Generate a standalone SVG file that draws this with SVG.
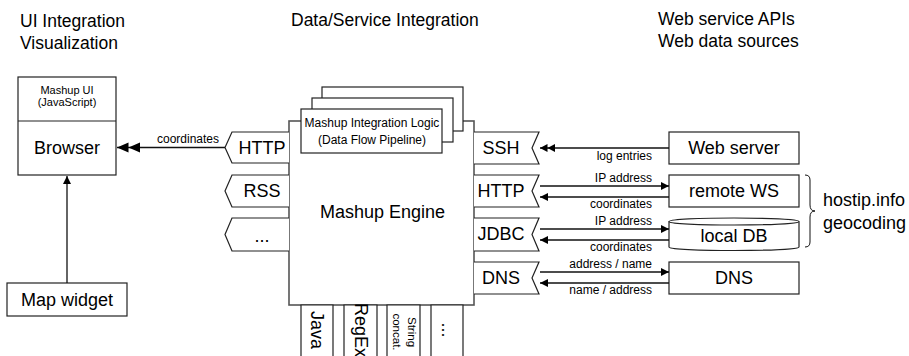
<svg xmlns="http://www.w3.org/2000/svg" width="909" height="356" viewBox="0 0 909 356">
<style>
text{font-family:"Liberation Sans",Arial,sans-serif;fill:#000}
.h{font-size:17.5px}
.l{font-size:18px;text-anchor:middle}
.s{font-size:12px}
.c{font-size:12px;text-anchor:middle}
.r{text-anchor:end}
.box{fill:#fff;stroke:#222;stroke-width:1.2}
.eng{fill:#fff;stroke:#555;stroke-width:1.6}
.ln{fill:none;stroke:#111;stroke-width:1.3}
</style>
<defs>
<marker id="a1" markerUnits="userSpaceOnUse" markerWidth="10" markerHeight="10" refX="8" refY="4" orient="auto"><path d="M0,0 L8,4 L0,8 z" fill="#000"/></marker>
<marker id="a2" markerUnits="userSpaceOnUse" markerWidth="16" markerHeight="10" refX="15" refY="4" orient="auto"><path d="M0,0 L7.5,4 L0,8 z M7.5,0 L15,4 L7.5,8 z" fill="#000"/></marker>
<marker id="a3" markerUnits="userSpaceOnUse" markerWidth="24" markerHeight="12" refX="23" refY="5" orient="auto"><path d="M0,0 L11.5,5 L0,10 z M11.5,0 L23,5 L11.5,10 z" fill="#000"/></marker>
</defs>

<g id="headers">
<text class="h" x="20" y="27">UI Integration</text>
<text class="h" x="20" y="49">Visualization</text>
<text class="h" x="291" y="26">Data/Service Integration</text>
<text class="h" x="658" y="25">Web service APIs</text>
<text class="h" x="658" y="47">Web data sources</text>
</g>

<g id="browser">
<rect class="box" x="18" y="77" width="98" height="98"/>
<line class="box" x1="18" y1="121" x2="116" y2="121"/>
<text class="c" x="67" y="94" style="font-size:11px">Mashup UI</text>
<text class="c" x="67" y="106" style="font-size:11px">(JavaScript)</text>
<text class="l" x="67" y="154">Browser</text>
</g>

<g id="map-widget">
<rect class="box" x="7" y="283" width="120" height="33"/>
<text class="l" x="67" y="306">Map widget</text>
</g>

<g id="engine">
<rect class="eng" x="289" y="121" width="185" height="184"/>
<text class="l" x="382.5" y="218">Mashup Engine</text>
</g>

<g id="pipeline">
<rect class="box" x="322" y="87" width="141" height="44"/>
<rect class="box" x="312" y="98" width="141" height="44"/>
<rect class="box" x="301" y="109" width="141" height="44"/>
<text class="c" x="372" y="127">Mashup Integration Logic</text>
<text class="c" x="372" y="144">(Data Flow Pipeline)</text>
</g>

<g id="left-tags">
<path class="box" d="M289,132 L232,132 L225,147.5 L232,163 L289,163"/>
<text class="l" x="262" y="154">HTTP</text>
<path class="box" d="M289,175 L232,175 L225,191 L232,207 L289,207"/>
<text class="l" x="262" y="197">RSS</text>
<path class="box" d="M289,218 L232,218 L225,234.5 L232,251 L289,251"/>
<text class="l" x="262" y="242">...</text>
</g>

<g id="right-tags">
<path class="box" d="M474,132 L539,132 L532,148 L539,164 L474,164"/>
<text class="l" x="501" y="154">SSH</text>
<path class="box" d="M474,175 L539,175 L532,191 L539,207 L474,207"/>
<text class="l" x="501" y="197">HTTP</text>
<path class="box" d="M474,218 L539,218 L532,234.5 L539,251 L474,251"/>
<text class="l" x="501" y="240">JDBC</text>
<path class="box" d="M474,262 L539,262 L532,278 L539,294 L474,294"/>
<text class="l" x="501" y="284">DNS</text>
</g>

<g id="bottom-tabs">
<path class="box" d="M301,357 L301,305 L333,305 L333,357"/>
<text class="l" transform="translate(317,330) rotate(90)" y="6">Java</text>
<path class="box" d="M344,357 L344,305 L377,305 L377,357"/>
<text class="l" transform="translate(360.5,330) rotate(90)" y="6">RegEx</text>
<path class="box" d="M387,357 L387,305 L420,305 L420,357"/>
<text class="c" transform="translate(403,332) rotate(90)" y="-5" style="font-size:11.5px">String</text>
<text class="c" transform="translate(403,332) rotate(90)" y="10" style="font-size:11.5px">concat.</text>
<path class="box" d="M431,357 L431,305 L463,305 L463,357"/>
<text class="l" transform="translate(447,330) rotate(90)" y="5">...</text>
</g>

<g id="web-server">
<rect class="box" x="669" y="132" width="130" height="32"/>
<text class="l" x="734" y="154">Web server</text>
</g>
<g id="remote-ws">
<rect class="box" x="669" y="175" width="130" height="32"/>
<text class="l" x="734" y="197">remote WS</text>
</g>
<g id="local-db">
<path class="box" d="M669,221.5 A65,3.5 0 0 1 799,221.5 L799,247 A65,3.5 0 0 1 669,247 Z"/>
<path class="box" style="fill:none" d="M669,221.5 A65,3.5 0 0 0 799,221.5"/>
<text class="l" x="734" y="242">local DB</text>
</g>
<g id="dns">
<rect class="box" x="669" y="262" width="130" height="32"/>
<text class="l" x="734" y="284">DNS</text>
</g>

<g id="hostip">
<path class="ln" style="stroke-width:1" d="M805,175 Q810,175 810,180 L810,205 Q810,211 815,211 Q810,211 810,217 L810,242 Q810,247 805,247"/>
<text class="h" x="823" y="206" style="font-size:18px">hostip.info</text>
<text class="h" x="823" y="229" style="font-size:18px">geocoding</text>
</g>

<g id="connectors">
<line class="ln" x1="225" y1="147.5" x2="117" y2="147.5" marker-end="url(#a3)"/>
<text class="s" x="157" y="143">coordinates</text>
<line class="ln" x1="67" y1="283" x2="67" y2="176" marker-end="url(#a1)"/>

<line class="ln" x1="669" y1="148" x2="540" y2="148" marker-end="url(#a2)"/>
<text class="s r" x="652" y="160">log entries</text>

<line class="ln" x1="540" y1="186" x2="669" y2="186" marker-end="url(#a1)"/>
<text class="s r" x="652" y="182">IP address</text>
<line class="ln" x1="669" y1="197" x2="540" y2="197" marker-end="url(#a1)"/>
<text class="s r" x="652" y="208">coordinates</text>

<line class="ln" x1="540" y1="229" x2="669" y2="229" marker-end="url(#a1)"/>
<text class="s r" x="652" y="225">IP address</text>
<line class="ln" x1="669" y1="240" x2="540" y2="240" marker-end="url(#a1)"/>
<text class="s r" x="652" y="251">coordinates</text>

<line class="ln" x1="540" y1="272" x2="669" y2="272" marker-end="url(#a1)"/>
<text class="s r" x="652" y="268">address / name</text>
<line class="ln" x1="669" y1="283" x2="540" y2="283" marker-end="url(#a1)"/>
<text class="s r" x="652" y="294">name / address</text>
</g>
</svg>
